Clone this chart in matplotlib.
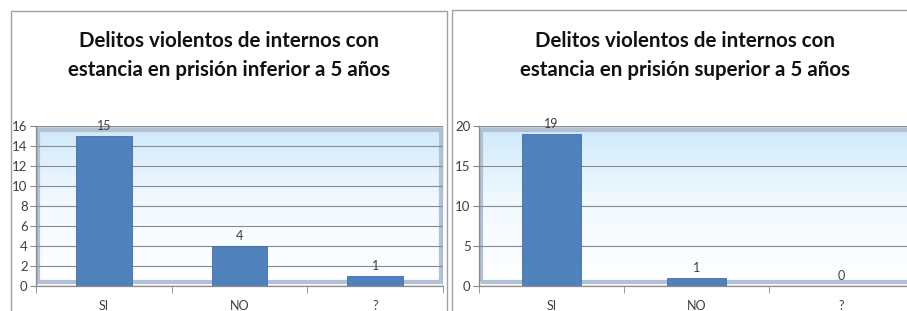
import numpy as np
import matplotlib.pyplot as plt
from matplotlib.patches import Rectangle

# === Data ===
categories = ["SI", "NO", "?"]
values_short = [15, 4, 1]
values_long = [19, 1, 0]
titles = [
    "Delitos violentos de internos con\nestancia en prisión inferior a 5 años",
    "Delitos violentos de internos con\nestancia en prisión superior a 5 años",
]
yticks_short = [0, 2, 4, 6, 8, 10, 12, 14, 16]
yticks_long = [0, 5, 10, 15, 20]

W, H = 907, 311
BAR = "#4F81BD"
plt.rcParams["font.family"] = ["Lato", "DejaVu Sans"]

fig = plt.figure(figsize=(W / 100, H / 100), dpi=100)


def px_axes(x0, x1, y_top, y_bot):
    return fig.add_axes([x0 / W, (H - y_bot) / H, (x1 - x0) / W, (y_bot - y_top) / H])


def panel_frame(x0, x1, y0):
    fig.patches.append(Rectangle((x0 / W, -0.1), (x1 - x0) / W, (H - y0) / H + 0.1,
                                 transform=fig.transFigure, fill=False,
                                 edgecolor="#a0a0a0", lw=1.0))


def draw_chart(ax, vals, ticks, title, title_x):
    ymax = ticks[-1]
    # gradient wall
    grad = np.linspace(0, 1, 256).reshape(-1, 1)
    cmap = plt.matplotlib.colors.LinearSegmentedColormap.from_list(
        "wall", ["#ffffff", "#f2faff", "#cfe9fa"])
    ax.imshow(grad, extent=(-0.5, 2.5, 0, ymax), origin="lower", aspect="auto",
              cmap=cmap, zorder=0)
    # bevel edges
    ax.add_patch(Rectangle((0.005, 0.025), 0.99, 0.95, transform=ax.transAxes,
                           fill=False, edgecolor="#b2c1d3", lw=3, zorder=1))
    ax.add_patch(Rectangle((0, 0), 1, 1, transform=ax.transAxes,
                           fill=False, edgecolor="#8ea3bf", lw=1.0, zorder=1))
    for t in ticks[1:]:
        ax.axhline(t, color="#8a8a8a", lw=0.8, zorder=2)

    x = np.arange(len(categories))
    ax.bar(x, vals, width=0.41, color=BAR, edgecolor="#3f6fa8", lw=0.6, zorder=3)
    for xi, v in zip(x, vals):
        ax.annotate(str(v), (xi, v), xytext=(0, 3), textcoords="offset points",
                    ha="center", va="bottom", fontsize=9, color="#404040",
                    annotation_clip=False, zorder=4)

    ax.set_xlim(-0.5, 2.5)
    ax.set_ylim(0, ymax)
    ax.set_yticks(ticks)
    ax.set_xticks(x)
    ax.set_xticklabels(categories)
    ax.set_xticks([-0.5, 0.5, 1.5, 2.5], minor=True)
    ax.tick_params(axis="x", which="major", length=0, pad=10, labelsize=9,
                   labelcolor="#404040")
    ax.tick_params(axis="x", which="minor", length=5, color="#8a8a8a", direction="out")
    ax.tick_params(axis="y", length=4, color="#8a8a8a", labelsize=9.5,
                   labelcolor="#404040", pad=2)
    for s in ["top", "right"]:
        ax.spines[s].set_visible(False)
    for s in ["left", "bottom"]:
        ax.spines[s].set_color("#8a8a8a")
        ax.spines[s].set_linewidth(0.9)
        ax.spines[s].set_zorder(5)

    fig.text(title_x / W, 1 - 55.5 / H, title, ha="center", va="center",
             fontsize=14.8, fontweight="bold", color="#111111", linespacing=1.58)


panel_frame(11, 447, 11)
panel_frame(452, 915, 10)

ax1 = px_axes(36, 443, 126, 286)
draw_chart(ax1, values_short, yticks_short, titles[0], 229)

ax2 = px_axes(479, 914, 126, 286)
draw_chart(ax2, values_long, yticks_long, titles[1], 685)

fig.savefig("out.png", dpi=100)
